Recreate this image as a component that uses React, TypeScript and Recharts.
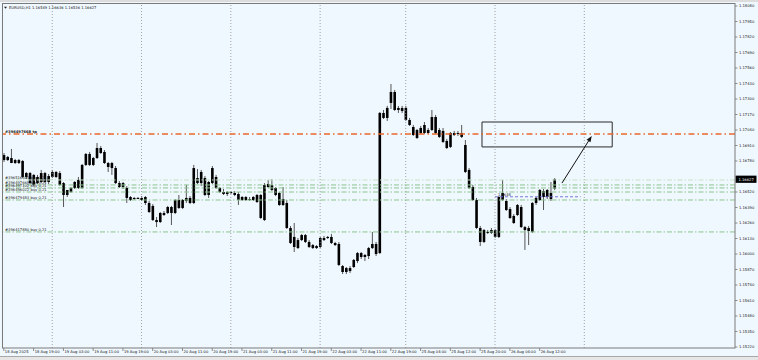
import React from "react";
import {
  ComposedChart,
  Bar,
  XAxis,
  YAxis,
  ReferenceLine,
  ReferenceArea,
} from "recharts";

// EURUSD H1, 18 Aug 11:00 .. 26 Aug 17:00 (bar index 0..148)
const opens = [
  1.16788, 1.16814, 1.16805, 1.16763, 1.16788, 1.1678, 1.16646, 1.16679, 1.16579, 1.16646,
  1.16604, 1.16679, 1.16604, 1.16646, 1.16688, 1.16679, 1.16595, 1.16495, 1.1652, 1.16554,
  1.16621, 1.16554, 1.16747, 1.16839, 1.16747, 1.16805, 1.16889, 1.16856, 1.16763, 1.16763,
  1.16721, 1.16595, 1.16562, 1.16554, 1.16478, 1.16461, 1.1647, 1.1647, 1.16478, 1.16428,
  1.16403, 1.16285, 1.16268, 1.16344, 1.16344, 1.16394, 1.16344, 1.16453, 1.16386, 1.16445,
  1.1647, 1.16428, 1.16637, 1.16595, 1.16637, 1.16495, 1.16595, 1.16646, 1.16554, 1.1652,
  1.16503, 1.1652, 1.16512, 1.16503, 1.16453, 1.16478, 1.16461, 1.16453, 1.16495, 1.16495,
  1.16285, 1.16587, 1.16579, 1.16554, 1.16512, 1.16411, 1.16428, 1.16218, 1.16059, 1.16117,
  1.16117, 1.16159, 1.16101, 1.16075, 1.1605, 1.16059, 1.16134, 1.16134, 1.16143, 1.16092,
  1.16084, 1.15899, 1.15849, 1.15882, 1.15891, 1.15941, 1.16008, 1.15975, 1.15983, 1.1605,
  1.16084, 1.16008, 1.17183, 1.17141, 1.17267, 1.17359, 1.17208, 1.17225, 1.17225, 1.17124,
  1.17065, 1.16973, 1.17057, 1.17015, 1.1704, 1.1704, 1.17149, 1.1704, 1.17032, 1.16948,
  1.16898, 1.17015, 1.17007, 1.17015, 1.16914, 1.16705, 1.16562, 1.16453, 1.16218, 1.16101,
  1.16185, 1.16201, 1.16201, 1.16143, 1.16512, 1.16445, 1.16377, 1.16319, 1.16327, 1.16394,
  1.16226, 1.16193, 1.16185, 1.16428, 1.16453, 1.16528, 1.16478, 1.16461, 1.16549,
];
const highs = [
  1.16847, 1.16822, 1.16881, 1.16797, 1.16797, 1.16788, 1.16688, 1.16688, 1.16671, 1.16663,
  1.16705, 1.16688, 1.16671, 1.16705, 1.16696, 1.16696, 1.16604, 1.16537, 1.16562, 1.16612,
  1.16646, 1.16755, 1.16847, 1.16856, 1.16814, 1.16931, 1.16906, 1.16872, 1.16772, 1.16772,
  1.16738, 1.16612, 1.16604, 1.1657, 1.16486, 1.16478, 1.16478, 1.16486, 1.16486, 1.16445,
  1.16419, 1.1631, 1.16352, 1.16361, 1.16403, 1.16403, 1.16461, 1.16495, 1.16461, 1.16579,
  1.16486, 1.16747, 1.16713, 1.16705, 1.16654, 1.16612, 1.16738, 1.16663, 1.16562, 1.16545,
  1.16528, 1.16528, 1.16528, 1.1652, 1.16486, 1.16486, 1.16478, 1.16486, 1.16503, 1.16503,
  1.16595, 1.16621, 1.16629, 1.16562, 1.1652, 1.16562, 1.16453, 1.16235, 1.1626, 1.16134,
  1.16168, 1.16168, 1.16117, 1.16084, 1.16075, 1.16143, 1.16151, 1.16151, 1.16168, 1.16101,
  1.16101, 1.15908, 1.15891, 1.15899, 1.15958, 1.16017, 1.16017, 1.16, 1.16059, 1.16185,
  1.16101, 1.17191, 1.17208, 1.17242, 1.17426, 1.17376, 1.17242, 1.17242, 1.17242, 1.17141,
  1.17082, 1.17049, 1.17074, 1.17107, 1.17057, 1.17208, 1.17166, 1.17057, 1.17057, 1.16965,
  1.17023, 1.17032, 1.17032, 1.17082, 1.16956, 1.16721, 1.16579, 1.1647, 1.16235, 1.1621,
  1.16201, 1.16218, 1.1621, 1.16486, 1.16621, 1.16461, 1.16394, 1.16335, 1.16419, 1.16411,
  1.16235, 1.16235, 1.16436, 1.16478, 1.16545, 1.16545, 1.16545, 1.16604, 1.16636,
];
const lows = [
  1.16772, 1.1678, 1.16763, 1.16755, 1.16755, 1.16637, 1.16629, 1.16587, 1.1657, 1.16587,
  1.16595, 1.16595, 1.16587, 1.16637, 1.16637, 1.1657, 1.16394, 1.16478, 1.16512, 1.16545,
  1.16545, 1.16545, 1.16738, 1.16738, 1.16738, 1.16797, 1.16839, 1.16755, 1.16688, 1.16663,
  1.16587, 1.16554, 1.16545, 1.16428, 1.16445, 1.16453, 1.16461, 1.16445, 1.16411, 1.16344,
  1.16277, 1.16226, 1.1626, 1.16319, 1.16335, 1.16243, 1.16335, 1.16377, 1.16377, 1.16428,
  1.16419, 1.16419, 1.16587, 1.1657, 1.16486, 1.1647, 1.16587, 1.16545, 1.16512, 1.16495,
  1.16486, 1.16503, 1.16486, 1.16411, 1.16445, 1.16445, 1.16445, 1.16445, 1.16428, 1.16294,
  1.16277, 1.16554, 1.16528, 1.16486, 1.16403, 1.16403, 1.1621, 1.16084, 1.16017, 1.16042,
  1.16109, 1.16092, 1.1605, 1.16042, 1.16042, 1.1605, 1.16109, 1.16126, 1.16084, 1.16067,
  1.15899, 1.15832, 1.15832, 1.1584, 1.15882, 1.15924, 1.15958, 1.15941, 1.15958, 1.16042,
  1.15983, 1.16, 1.17132, 1.17116, 1.17216, 1.172, 1.17183, 1.17183, 1.17116, 1.17074,
  1.1699, 1.16965, 1.17007, 1.17007, 1.17007, 1.17032, 1.17007, 1.16973, 1.16931, 1.16881,
  1.16889, 1.1699, 1.1699, 1.16973, 1.16679, 1.16545, 1.16445, 1.1621, 1.16067, 1.16092,
  1.16168, 1.16168, 1.16134, 1.16134, 1.16445, 1.16361, 1.16294, 1.16252, 1.16319, 1.16218,
  1.16034, 1.16075, 1.16176, 1.16411, 1.16445, 1.16369, 1.16461, 1.16445, 1.16536,
];
const closes = [
  1.1683, 1.16788, 1.16763, 1.16788, 1.16763, 1.16646, 1.16679, 1.16595, 1.16663, 1.16595,
  1.16679, 1.16604, 1.16654, 1.16688, 1.16646, 1.16579, 1.16495, 1.16537, 1.16554, 1.16604,
  1.16554, 1.16747, 1.16839, 1.16747, 1.16805, 1.16889, 1.16847, 1.16763, 1.1673, 1.16721,
  1.16595, 1.16562, 1.16595, 1.1647, 1.16453, 1.1647, 1.1647, 1.16453, 1.16428, 1.16352,
  1.16285, 1.16268, 1.16344, 1.16327, 1.16394, 1.16344, 1.16453, 1.16386, 1.16453, 1.1647,
  1.16428, 1.16721, 1.16595, 1.16688, 1.16495, 1.16604, 1.16721, 1.16554, 1.1652, 1.16503,
  1.1652, 1.16512, 1.16495, 1.16453, 1.16478, 1.16453, 1.16453, 1.16478, 1.16436, 1.16302,
  1.16579, 1.16562, 1.16537, 1.16495, 1.16411, 1.16461, 1.16218, 1.16092, 1.16143, 1.1605,
  1.16159, 1.16101, 1.16059, 1.1605, 1.16067, 1.16134, 1.16117, 1.16143, 1.16092, 1.16075,
  1.15908, 1.15849, 1.15882, 1.15857, 1.1595, 1.16008, 1.15975, 1.15992, 1.1605, 1.16084,
  1.16, 1.17183, 1.17141, 1.17225, 1.17359, 1.17208, 1.17225, 1.172, 1.17124, 1.17082,
  1.16998, 1.1704, 1.17015, 1.17082, 1.17015, 1.17149, 1.17015, 1.16982, 1.1694, 1.16889,
  1.17015, 1.16998, 1.17015, 1.16982, 1.16688, 1.16554, 1.16453, 1.16218, 1.16101, 1.16201,
  1.16185, 1.16176, 1.16143, 1.16478, 1.16453, 1.16369, 1.16302, 1.1626, 1.16411, 1.16226,
  1.16201, 1.16218, 1.16428, 1.1647, 1.16537, 1.16478, 1.16537, 1.16512, 1.16627,
];

const timeTickIdx = [0, 8, 16, 24, 32, 40, 48, 56, 64, 72, 80, 88, 96, 104, 112, 120, 128, 136, 144];
const timeTickText = [
  "18 Aug 2025", "18 Aug 19:00", "19 Aug 03:00", "19 Aug 11:00", "19 Aug 19:00",
  "20 Aug 03:00", "20 Aug 11:00", "20 Aug 19:00", "21 Aug 03:00", "21 Aug 11:00",
  "21 Aug 19:00", "22 Aug 03:00", "22 Aug 11:00", "22 Aug 19:00", "25 Aug 04:00",
  "25 Aug 12:00", "25 Aug 20:00", "26 Aug 04:00", "26 Aug 12:00",
];
const dayStartIdx = [13, 37, 61, 85, 108, 132, 156];

const priceTicks = [
  1.1808, 1.1795, 1.1782, 1.1769, 1.1756, 1.1743, 1.173, 1.1717, 1.1704, 1.1691, 1.1678,
  1.1652, 1.1639, 1.1626, 1.1613, 1.16, 1.1587, 1.1574, 1.1561, 1.1548, 1.1535, 1.1522,
];

// open orders
const buyLevels = [1.16621, 1.16579, 1.16554, 1.1652, 1.16453, 1.16185];
const buyTickets = [
  "#396516504 buy 0.21", "#396497668 buy 0.21", "#396497102 buy 0.21",
  "#396496022 buy 0.21", "#396479483 buy 0.21", "#396417880 buy 0.21",
];
const tpLevel = 1.17007;
const tpText = "#396497668 tp";

// drawn objects
const markLevel = 1.1648;
const markSpan = [132, 155];
const boxPrices = [1.16898, 1.17107];
const boxSpan = [129, 163];
const arrowIdx = [150, 158];
const arrowPrices = [1.16595, 1.1699];

const symbol = "EURUSD,H1";
const lastBar = [1.16549, 1.16636, 1.16536, 1.16627];

const W = 758;
const H = 360;
const SLOTS = 197;
const PLOT_RIGHT = 735;
const PLOT_BOTTOM = 348;
const FONT = "'DejaVu Sans', sans-serif";
const FS = 3.7;

const rows = Array.from({ length: SLOTS }, (_, i) =>
  i < opens.length
    ? { i, range: [lows[i], highs[i]], open: opens[i], high: highs[i], low: lows[i], close: closes[i] }
    : { i }
);

function Candle(props: any) {
  const { x, y, width, height, payload } = props;
  if (!payload || payload.open == null) return null;
  const { open, close, high, low } = payload;
  const k = high > low ? height / (high - low) : 0;
  const at = (p: number) => y + (high - p) * k;
  const cx = x + width / 2;
  const top = at(Math.max(open, close));
  const bh = Math.max(1, at(Math.min(open, close)) - top);
  return (
    <g>
      <line x1={cx} x2={cx} y1={y} y2={y + height} stroke="#555" strokeWidth={1} />
      <rect x={cx - 1.3} y={top} width={2.6} height={bh} fill="#000" />
    </g>
  );
}

function TimeTick(props: any) {
  const { x, payload } = props;
  const k = timeTickIdx.indexOf(payload.value);
  if (k < 0) return null;
  return (
    <g>
      <line x1={x} x2={x} y1={PLOT_BOTTOM} y2={PLOT_BOTTOM + 3} stroke="#444" strokeWidth={0.6} />
      <text x={x + 1} y={PLOT_BOTTOM + 5.3} fontSize={FS} fontFamily={FONT} fill="#111">
        {timeTickText[k]}
      </text>
    </g>
  );
}

function PriceTick(props: any) {
  const { y, payload } = props;
  return (
    <g>
      <line x1={PLOT_RIGHT} x2={PLOT_RIGHT + 2.5} y1={y} y2={y} stroke="#444" strokeWidth={0.6} />
      <text x={PLOT_RIGHT + 4} y={y + 1.3} fontSize={FS} fontFamily={FONT} fill="#111">
        {payload.value.toFixed(5)}
      </text>
    </g>
  );
}

function LineTag(props: any) {
  const { viewBox, text, bold } = props;
  if (!viewBox) return null;
  return (
    <text
      x={viewBox.x + 3}
      y={viewBox.y - 1.2}
      fontSize={FS}
      fontFamily={FONT}
      fontWeight={bold ? "bold" : "normal"}
      fill="#222"
    >
      {text}
    </text>
  );
}

function PriceBox(props: any) {
  const { viewBox, value } = props;
  if (!viewBox) return null;
  const x = viewBox.x + viewBox.width;
  const y = viewBox.y;
  return (
    <g>
      <rect x={x + 0.5} y={y - 3.6} width={21} height={7.2} fill="#000" />
      <text x={x + 3.5} y={y + 1.3} fontSize={FS} fontFamily={FONT} fill="#fff">
        {value.toFixed(5)}
      </text>
    </g>
  );
}

function Arrow(props: any) {
  const { x1, y1, x2, y2 } = props;
  const a = Math.atan2(y2 - y1, x2 - x1);
  const bx = x2 - 6 * Math.cos(a);
  const by = y2 - 6 * Math.sin(a);
  const px = -Math.sin(a) * 2.3;
  const py = Math.cos(a) * 2.3;
  return (
    <g>
      <line x1={x1} y1={y1} x2={bx} y2={by} stroke="#111" strokeWidth={1} />
      <polygon points={`${x2},${y2} ${bx + px},${by + py} ${bx - px},${by - py}`} fill="#111" />
    </g>
  );
}

export default function App() {
  return (
    <div
      style={{
        position: "absolute",
        left: 0,
        top: 0,
        width: W,
        height: H,
        background: "#f0f8ff",
        overflow: "hidden",
      }}
    >
      <ComposedChart
        width={W}
        height={H}
        data={rows}
        margin={{ top: 3, right: 0, bottom: 0, left: 2 }}
        barCategoryGap={0}
        barGap={0}
      >
        <XAxis
          dataKey="i"
          type="category"
          height={12}
          ticks={timeTickIdx}
          interval={0}
          tick={<TimeTick />}
          axisLine={false}
          tickLine={false}
        />
        <YAxis
          orientation="right"
          width={23}
          type="number"
          domain={[1.152116, 1.181052]}
          allowDataOverflow
          ticks={priceTicks}
          interval={0}
          tick={<PriceTick />}
          axisLine={false}
          tickLine={false}
        />
        {dayStartIdx.map((d) => (
          <ReferenceLine key={d} x={d} stroke="#8c8c8c" strokeWidth={0.8} strokeDasharray="1 2" />
        ))}
        <ReferenceLine
          y={tpLevel}
          stroke="#e8672e"
          strokeWidth={1.4}
          strokeDasharray="6 3 1.5 3"
          label={<LineTag text={tpText} bold />}
        />
        {buyLevels.map((p, k) => (
          <ReferenceLine
            key={p}
            y={p}
            stroke={k === 0 ? "#c4e3c4" : "#8cc58c"}
            strokeWidth={1}
            strokeDasharray="5 2 1.5 2"
            label={<LineTag text={buyTickets[k]} />}
          />
        ))}
        <Bar dataKey="range" shape={<Candle />} isAnimationActive={false} />
        <ReferenceLine
          segment={[
            { x: markSpan[0], y: markLevel },
            { x: markSpan[1], y: markLevel },
          ]}
          stroke="#6b6bcc"
          strokeWidth={0.9}
          strokeDasharray="3 2"
          label={<LineTag text={markLevel.toFixed(4)} />}
        />
        <ReferenceArea
          x1={boxSpan[0]}
          x2={boxSpan[1]}
          y1={boxPrices[0]}
          y2={boxPrices[1]}
          fill="none"
          stroke="#2a2a2a"
          strokeWidth={1}
        />
        <ReferenceLine
          segment={[
            { x: arrowIdx[0], y: arrowPrices[0] },
            { x: arrowIdx[1], y: arrowPrices[1] },
          ]}
          shape={(p: any) => <Arrow {...p} />}
        />
        <ReferenceLine y={lastBar[3]} stroke="none" label={<PriceBox value={lastBar[3]} />} />
      </ComposedChart>
      <svg
        width={W}
        height={H}
        style={{ position: "absolute", left: 0, top: 0, pointerEvents: "none" }}
      >
        <rect x={0} y={0} width={W} height={2} fill="#dcdcdc" />
        <rect x={2.5} y={3.5} width={PLOT_RIGHT - 2.5} height={PLOT_BOTTOM - 3.5} fill="none" stroke="#7a7a7a" strokeWidth={1} />
        <polygon points="4,6.8 7,6.8 5.5,8.8" fill="#222" />
        <text x={9} y={9} fontSize={FS} fontFamily={FONT} fill="#111">
          {`${symbol}  ${lastBar.map((v) => v.toFixed(5)).join(" ")}`}
        </text>
        <rect x={0} y={356} width={W} height={4} fill="#e6e6e6" />
        <line x1={0} x2={W} y1={356.5} y2={356.5} stroke="#a8a8a8" />
      </svg>
    </div>
  );
}
